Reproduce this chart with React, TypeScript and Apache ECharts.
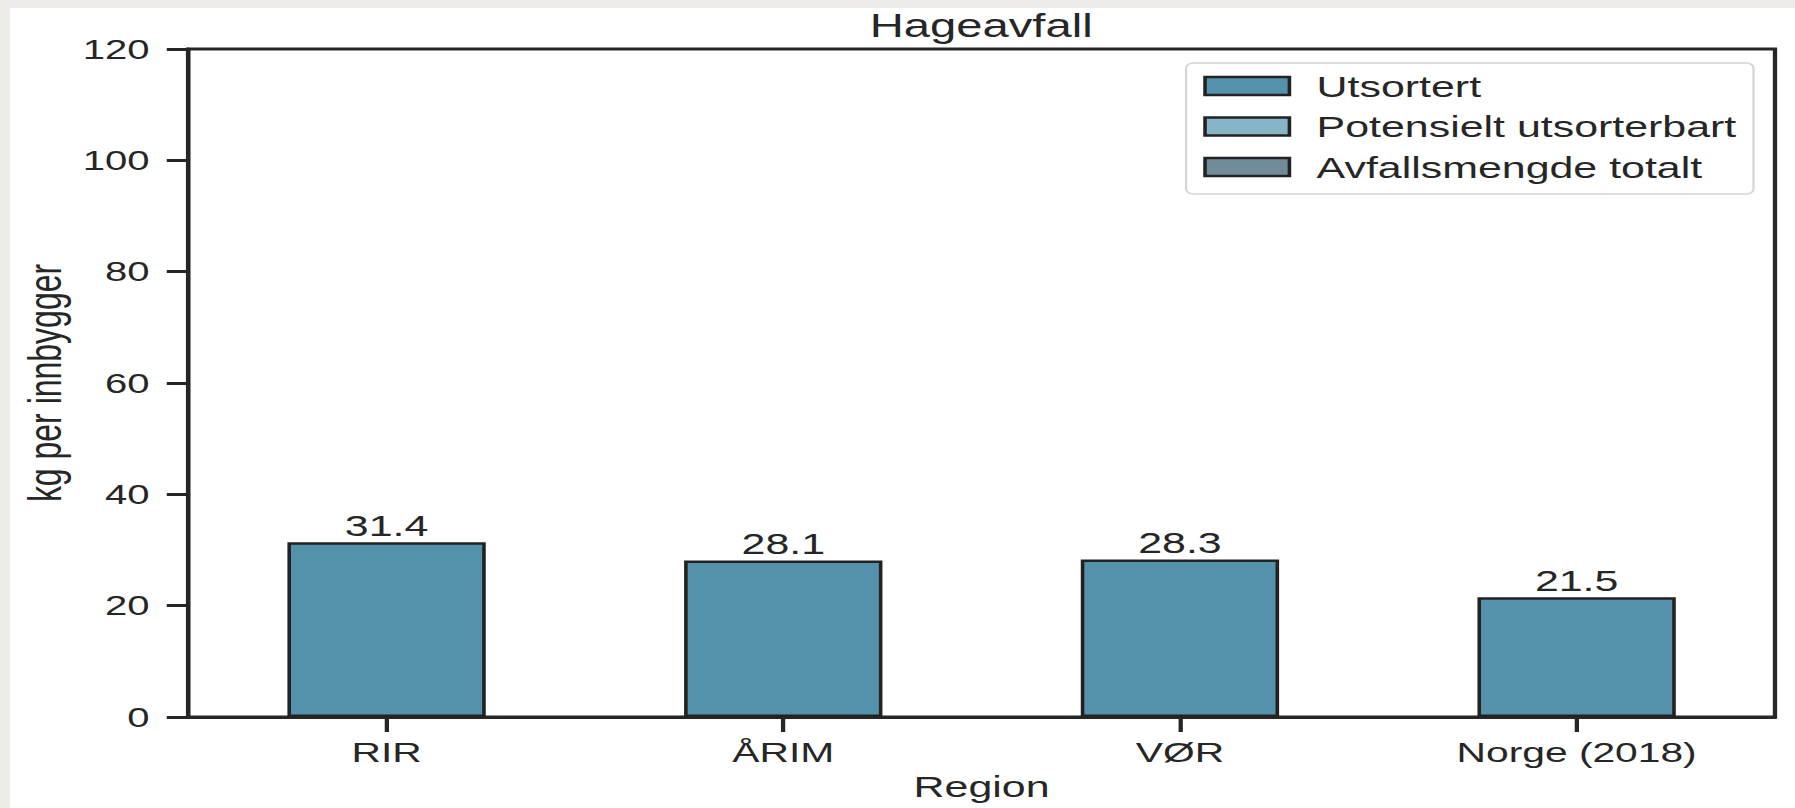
import React, { useEffect, useRef } from "react";
import * as echarts from "echarts";

// ---- data ----
const categories: string[] = ["RIR", "ÅRIM", "VØR", "Norge (2018)"];
const utsortert: (number | null)[] = [31.4, 28.1, 28.3, 21.5];
const potensielt: (number | null)[] = [null, null, null, null];
const totalt: (number | null)[] = [null, null, null, null];
const seriesNames: string[] = ["Utsortert", "Potensielt utsorterbart", "Avfallsmengde totalt"];
const yMin = 0;
const yMax = 120;
const yInterval = 20;
const titleText = "Hageavfall";
const xName = "Region";
const yName = "kg per innbygger";

// ---- layout (local, un-stretched coordinates) ----
const WHITE_W = 1785;
const WHITE_H = 800;
const LOCAL_W = 1248;
const SX = WHITE_W / LOCAL_W;
const FONT = "'Liberation Sans', Arial, Helvetica, sans-serif";
const INK = "#262626";

export default function App() {
  const ref = useRef<HTMLDivElement>(null);

  useEffect(() => {
    if (!ref.current) return;
    const chart = echarts.init(ref.current, null, { renderer: "svg" });
    const gridLeft = 124;
    const gridRight = 14;
    const plotCenter = gridLeft + (LOCAL_W - gridLeft - gridRight) / 2;
    const barItem = (color: string) => ({ color, borderColor: "#222222", borderWidth: 2.5 });
    const option: any = {
      animation: false,
      backgroundColor: "#ffffff",
      textStyle: { fontFamily: FONT, color: INK },
      graphic: [
        {
          type: "text",
          x: plotCenter,
          y: 18,
          style: {
            text: titleText,
            fill: INK,
            fontSize: 33,
            lineHeight: 33,
            fontFamily: FONT,
            align: "center",
            verticalAlign: "middle",
          },
        },
      ],
      grid: {
        left: gridLeft,
        right: gridRight,
        top: 41,
        bottom: 91,
        show: true,
        borderColor: INK,
        borderWidth: 3,
        backgroundColor: "#ffffff",
      },
      legend: {
        data: seriesNames,
        orient: "vertical",
        right: 29,
        top: 55,
        icon: "rect",
        itemWidth: 59,
        itemHeight: 18,
        itemGap: 10.5,
        padding: [8, 12, 12, 12],
        backgroundColor: "rgba(255,255,255,0.8)",
        borderColor: "#d4d4d4",
        borderWidth: 1.5,
        borderRadius: 5,
        textStyle: { fontSize: 30, color: INK, fontFamily: FONT, padding: [0, 0, 0, 14] },
        itemStyle: { borderColor: "#222222", borderWidth: 2.5 },
      },
      xAxis: {
        type: "category",
        data: categories,
        name: xName,
        nameLocation: "middle",
        nameGap: 54,
        nameTextStyle: { fontSize: 30, color: INK, fontFamily: FONT },
        axisLine: { show: true, lineStyle: { color: INK, width: 3 } },
        axisTick: { show: true, alignWithLabel: true, length: 15, lineStyle: { color: INK, width: 3 } },
        axisLabel: { fontSize: 28.5, color: INK, margin: 20, fontFamily: FONT },
        splitLine: { show: false },
      },
      yAxis: {
        type: "value",
        min: yMin,
        max: yMax,
        interval: yInterval,
        name: yName,
        nameLocation: "middle",
        nameGap: 82,
        nameTextStyle: { fontSize: 32, color: INK, fontFamily: FONT },
        axisLine: { show: true, lineStyle: { color: INK, width: 3 } },
        axisTick: { show: true, length: 15, lineStyle: { color: INK, width: 3 } },
        axisLabel: { fontSize: 28, color: INK, margin: 27, fontFamily: FONT },
        splitLine: { show: false },
      },
      series: [
        {
          name: seriesNames[0],
          type: "bar",
          data: utsortert,
          barWidth: "50%",
          barGap: "-100%",
          itemStyle: barItem("#5492ab"),
          label: {
            show: true,
            position: "top",
            distance: 2,
            fontSize: 30,
            color: INK,
            fontFamily: FONT,
            formatter: (p: any) => (p.value == null ? "" : Number(p.value).toFixed(1)),
          },
        },
        {
          name: seriesNames[1],
          type: "bar",
          data: potensielt,
          barWidth: "50%",
          barGap: "-100%",
          itemStyle: barItem("#86b5c5"),
        },
        {
          name: seriesNames[2],
          type: "bar",
          data: totalt,
          barWidth: "50%",
          barGap: "-100%",
          itemStyle: barItem("#718c99"),
        },
      ],
    };
    chart.setOption(option);
    return () => chart.dispose();
  }, []);

  return (
    <div
      style={{
        position: "fixed",
        left: 0,
        top: 0,
        width: 1795,
        height: 808,
        background: "#ecebe7",
        overflow: "hidden",
      }}
    >
      <div
        style={{
          position: "absolute",
          left: 10,
          top: 8,
          width: WHITE_W,
          height: WHITE_H,
          background: "#ffffff",
        }}
      >
        <div
          ref={ref}
          style={{
            width: LOCAL_W,
            height: WHITE_H,
            transform: `scaleX(${SX})`,
            transformOrigin: "0 0",
          }}
        />
      </div>
    </div>
  );
}
